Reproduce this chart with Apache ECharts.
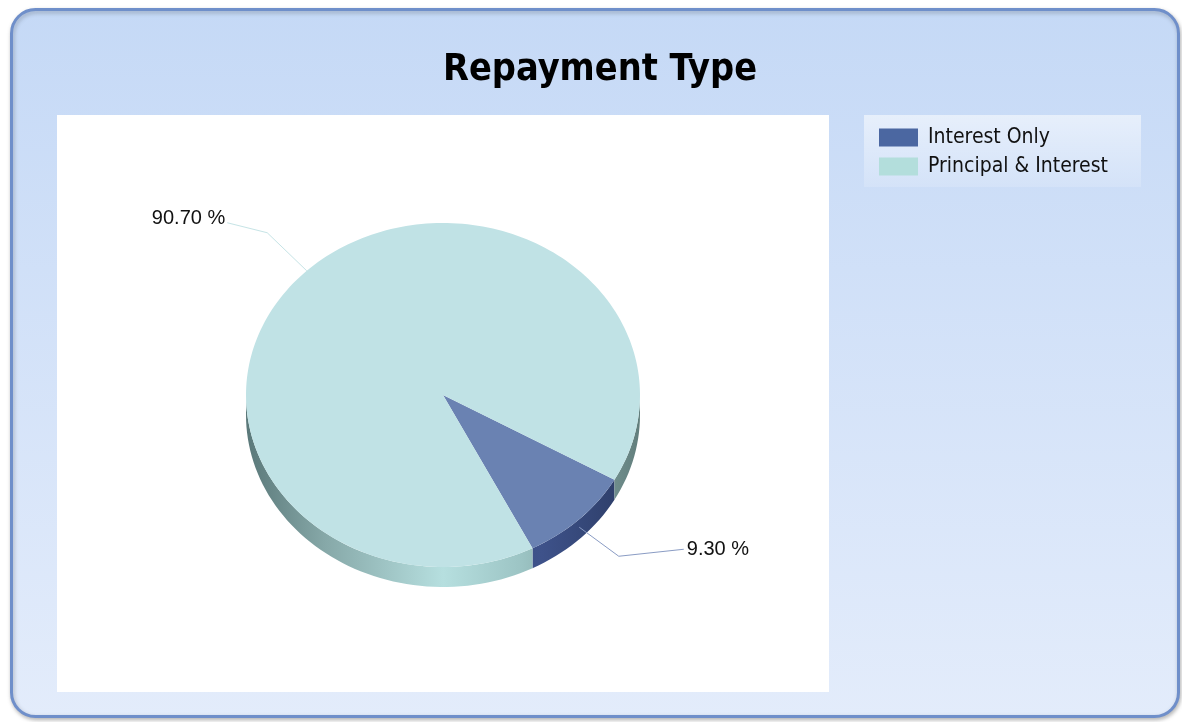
<!DOCTYPE html>
<html><head><meta charset="utf-8">
<script src="https://cdn.jsdelivr.net/npm/echarts@6/dist/echarts.min.js"></script>
<style>html,body{margin:0;padding:0;background:#fff}#c{width:1182px;height:722px}</style>
</head><body><div id="c"></div>
<script>
const categories = ['Interest Only', 'Principal & Interest'];
const values = [9.30, 90.70];
const labels = ['9.30 %', '90.70 %'];

const chart = echarts.init(document.getElementById('c'));
const CX = 443, CY = 395, RX = 197, RY = 172, DEPTH = 20;
const START = 29.5; // degrees, clockwise from east
const total = values.reduce((a, b) => a + b, 0);
const topColors = ['#6a82b2', '#c0e2e5'];
const legendColors = ['#4b67a1', '#b3dedc'];
const sideStops = [
  [{offset:0,color:'#22335a'},{offset:0.5,color:'#34467a'},{offset:0.75,color:'#3e528a'},{offset:1,color:'#2a3a62'}],
  [{offset:0,color:'#5a7879'},{offset:0.2,color:'#86a8a8'},{offset:0.5,color:'#b6dfdf'},{offset:0.7,color:'#9cc4c4'},{offset:1,color:'#627e7c'}]
];
function angles(i){
  let s = START; for (let k = 0; k < i; k++) s += values[k] / total * 360;
  return [s, s + values[i] / total * 360];
}
function pt(deg, dy){ const r = deg*Math.PI/180; return [CX + RX*Math.cos(r), CY + RY*Math.sin(r) + (dy||0)]; }

function render(i){
  return function(params, api){
    const [a1, a2] = angles(i);
    const children = [];
    const segs = [];
    for (const off of [0, 360]) {
      const s = Math.max(a1, off), e = Math.min(a2, off + 180);
      if (e > s) segs.push([s, e]);
    }
    segs.forEach(([s, e]) => {
      const pts = [];
      const n = Math.max(4, Math.ceil((e - s) / 2));
      for (let k = 0; k <= n; k++) pts.push(pt(s + (e - s) * k / n));
      for (let k = n; k >= 0; k--) pts.push(pt(s + (e - s) * k / n, DEPTH));
      children.push({type:'polygon', shape:{points:pts}, style:{fill:{type:'linear', x:CX-RX, y:0, x2:CX+RX, y2:0, global:true, colorStops:sideStops[i]}}});
    });
    const tp = [[CX, CY]];
    const n = Math.max(4, Math.ceil((a2 - a1) / 1.5));
    for (let k = 0; k <= n; k++) tp.push(pt(a1 + (a2 - a1) * k / n));
    children.push({type:'polygon', shape:{points:tp}, style:{fill:topColors[i]}});
    const mid = (a1 + a2) / 2, mr = mid * Math.PI / 180;
    const right = Math.cos(mr) > 0;
    const down = Math.sin(mr) > 0;
    const p1 = [CX + RX*Math.cos(mr), CY + RY*Math.sin(mr) + (down ? 8 : 0)];
    const p2 = [CX + RX*1.29*Math.cos(mr), CY + RY*1.29*Math.sin(mr) + (down ? 1 : -2)];
    const p3 = [p2[0] + (right ? 65 : -40), p2[1] - (right ? 7 : 10)];
    children.push({type:'polyline', shape:{points:[p1, p2, p3]}, style:{stroke: i===0 ? '#8a9cc4' : '#c6e4e6', lineWidth:1, fill:null}});
    children.push({type:'text', style:{text:labels[i], x:p3[0] + (right ? 3 : -2), y:p3[1] + (right ? 0 : -4), align: right ? 'left' : 'right', verticalAlign:'middle', font:'20px "Liberation Sans", Arial, sans-serif', fill:'#111'}});
    return {type:'group', children};
  };
}

chart.setOption({
  animation:false,
  graphic:[
    {type:'rect', z:-10, shape:{x:11.5, y:9.5, width:1167, height:707, r:24},
      style:{fill:{type:'linear', x:0, y:0, x2:0, y2:1, colorStops:[{offset:0,color:'#c5d9f6'},{offset:1,color:'#e3ecfb'}]}, stroke:'#6f8fca', lineWidth:3, shadowColor:'rgba(0,0,0,0.25)', shadowBlur:4, shadowOffsetX:1, shadowOffsetY:2}},
    {type:'rect', z:-9, shape:{x:57, y:115, width:772, height:577}, style:{fill:'#ffffff'}},
    {type:'rect', z:-9, shape:{x:864, y:115, width:277, height:72},
      style:{fill:{type:'linear', x:0, y:0, x2:0, y2:1, colorStops:[{offset:0,color:'rgba(255,255,255,0.55)'},{offset:1,color:'rgba(255,255,255,0.15)'}]}}}
  ],
  title:{text:'Repayment Type', left:443, top:51, padding:0, textStyle:{fontFamily:'"DejaVu Sans Condensed", "DejaVu Sans", sans-serif', fontWeight:'bold', fontSize:37.5, color:'#000'}},
  legend:{orient:'vertical', left:879, top:127, padding:0, itemWidth:39, itemHeight:18, itemGap:8, itemTextGap:10, icon:'rect',
    data:categories, textStyle:{fontFamily:'"DejaVu Sans Condensed", "DejaVu Sans", sans-serif', fontSize:21, lineHeight:18, color:'#111', padding:[0,0,0,5]}},
  series: categories.map((name, i) => ({
    type:'custom', name, coordinateSystem:'none', data:[values[i]],
    itemStyle:{color:legendColors[i]}, renderItem: render(i)
  }))
});
</script></body></html>
